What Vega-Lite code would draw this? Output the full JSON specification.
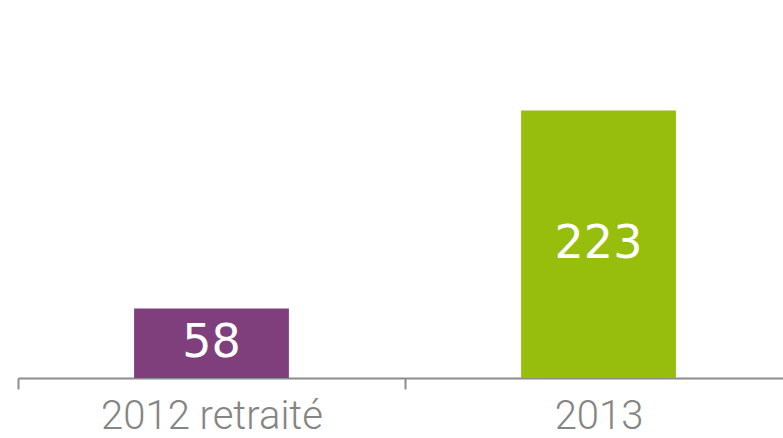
{
  "$schema": "https://vega.github.io/schema/vega-lite/v6.json",
  "width": 774,
  "height": 378,
  "autosize": "none",
  "padding": {"left": 18, "top": 0, "right": 0, "bottom": 60},
  "background": "white",
  "config": {"view": {"stroke": null}},
  "data": {"values": [
    {"year": "2012 retraité", "value": 58},
    {"year": "2013", "value": 223}
  ]},
  "encoding": {
    "x": {"field": "year", "type": "nominal", "sort": null,
      "scale": {"paddingInner": 0, "paddingOuter": 0},
      "axis": {"title": null, "labelAngle": 0, "domainColor": "#8c8c8c", "domainWidth": 2,
        "tickColor": "#8c8c8c", "tickWidth": 2, "tickSize": 11, "tickBand": "extent",
        "labelFont": "Roboto", "labelFontWeight": 300, "labelFontSize": 40, "labelLimit": 0,
        "labelColor": "#858585", "labelPadding": 39, "labelBaseline": "alphabetic"}}
  },
  "layer": [
    {
      "mark": {"type": "bar", "width": {"band": 0.4}},
      "encoding": {
        "y": {"field": "value", "type": "quantitative", "scale": {"domain": [0, 315], "nice": false}, "axis": null},
        "color": {"field": "year", "type": "nominal", "scale": {"range": ["#7f3f7d", "#97be0d"]}, "legend": null}
      }
    },
    {
      "mark": {"type": "text", "color": "white", "font": "DejaVu Sans", "fontSize": 46, "baseline": "middle", "align": "center"},
      "encoding": {
        "y": {"field": "value", "type": "quantitative", "scale": {"domain": [0, 630], "nice": false}, "axis": null},
        "text": {"field": "value", "type": "quantitative"}
      }
    }
  ],
  "resolve": {"scale": {"y": "independent"}}
}
